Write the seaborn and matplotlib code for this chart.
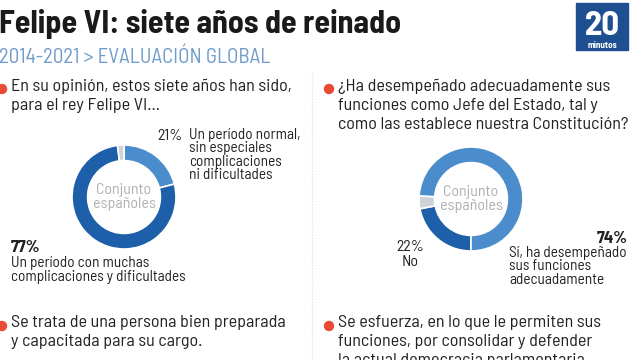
import matplotlib
matplotlib.use("Agg")
import matplotlib.pyplot as plt
import seaborn as sns

# survey data
q1_labels = ["Un período normal,\nsin especiales\ncomplicaciones\nni dificultades",
             "Un período con muchas\ncomplicaciones y dificultades",
             "NS/NC"]
q1_values = [21, 77, 2]

q2_labels = ["No", "NS/NC", "Sí, ha desempeñado\nsus funciones\nadecuadamente"]
q2_values = [22, 4, 74]

title = "Felipe VI: siete años de reinado"
subtitle = "2014-2021 > EVALUACIÓN GLOBAL"
q1_text = "En su opinión, estos siete años han sido,\npara el rey Felipe VI..."
q2_text = ("¿Ha desempeñado adecuadamente sus\nfunciones como Jefe del Estado, tal y\n"
           "como las establece nuestra Constitución?")
q3_text = "Se trata de una persona bien preparada\ny capacitada para su cargo."
q4_text = ("Se esfuerza, en lo que le permiten sus\nfunciones, por consolidar y defender\n"
           "la actual democracia parlamentaria")
center_text = "Conjunto\nespañoles"

sns.set_theme(style="white")
plt.rcParams["font.family"] = ["Barlow Semi Condensed", "DejaVu Sans"]

DARK = "#1d5fa9"
LIGHT = "#4b8dcc"
GREY = "#cfd3d7"
RED = "#e94b35"
INK = "#222222"

W, H = 640, 360
fig = plt.figure(figsize=(6.4, 3.6), dpi=100)
bg = fig.add_axes([0, 0, 1, 1])
bg.set_xlim(0, W)
bg.set_ylim(H, 0)
bg.axis("off")

# header
bg.text(-1, 33, title, fontsize=23, fontweight="bold", color="#1a1a1a", va="baseline")
bg.text(-1, 63, subtitle, fontsize=15, color="#6f9ccc", va="baseline")
bg.add_patch(plt.Rectangle((576, 3), 52, 47, color="#1d4f91"))
bg.text(602, 35, "20", fontsize=25, fontweight="bold", color="white", ha="center", va="baseline")
bg.text(602, 47.5, "minutos", fontsize=6.5, fontweight="bold", color="white", ha="center",
        va="baseline")

# divider
bg.plot([312, 312], [73, 360], color="#e2e2e2", lw=1, ls=(0, (1, 1)))

# questions with bullets
for x, y, txt in [(11, 78, q1_text), (338, 78, q2_text), (11, 315, q3_text), (338, 315, q4_text)]:
    bg.add_patch(plt.Circle((x - 9, y + 11), 4.5, color=RED))
    bg.text(x, y, txt, fontsize=13, color=INK, va="top", linespacing=1.33)


def donut(cx, cy, r, values, colors, start):
    ax = fig.add_axes([(cx - r) / W, 1 - (cy + r) / H, 2 * r / W, 2 * r / H])
    ax.pie(values, colors=colors, startangle=start, counterclock=False, radius=1,
           wedgeprops=dict(width=0.3, edgecolor="white", linewidth=1.2))
    ax.set_xlim(-1, 1)
    ax.set_ylim(-1, 1)
    ax.set_aspect("equal")
    ax.axis("off")
    bg.text(cx, cy, center_text, fontsize=11.5, color="#aeb1b4", ha="center", va="center",
            multialignment="center", linespacing=1.0)


donut(124, 197, 52, q1_values, [LIGHT, DARK, GREY], 90)
donut(471, 199, 52, q2_values, [DARK, GREY, LIGHT], -90)

# left labels
bg.text(182, 140, f"{q1_values[0]}%", fontsize=11.5, color=INK, ha="right", va="baseline")
bg.text(189, 128, q1_labels[0], fontsize=11, color=INK, va="top", linespacing=0.95)
bg.text(11, 252, f"{q1_values[1]}%", fontsize=12.5, fontweight="bold", color=INK, va="baseline")
bg.text(11, 256, q1_labels[1], fontsize=11, color=INK, va="top", linespacing=1.0)

# right labels
bg.text(410, 240, f"{q2_values[0]}%\n{q2_labels[0]}", fontsize=11.5, color=INK, ha="center",
        va="top", multialignment="center", linespacing=1.1)
bg.text(628, 243, f"{q2_values[2]}%", fontsize=12.5, fontweight="bold", color=INK, ha="right",
        va="baseline")
bg.text(509, 246, q2_labels[2], fontsize=11, color=INK, va="top", linespacing=0.95)

fig.savefig("out.png", dpi=100, facecolor="white")
